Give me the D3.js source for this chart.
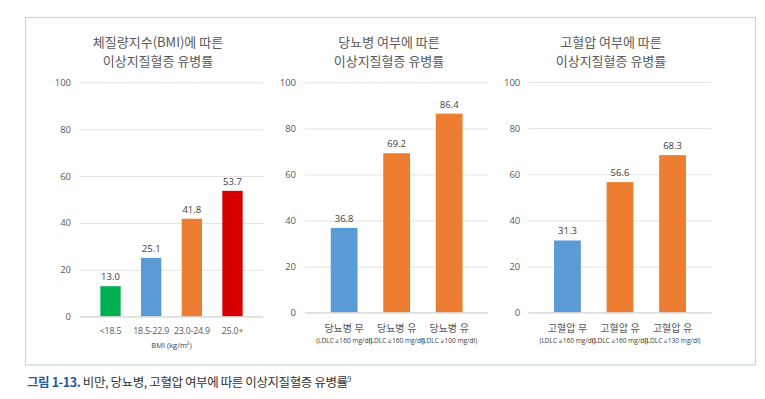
<!DOCTYPE html>
<html><head><meta charset="utf-8">
<script src="https://cdn.jsdelivr.net/npm/d3@7"></script>
<style>
html,body{margin:0;padding:0;background:#fff;}
svg{display:block;font-family:"Open Sans","Noto Sans CJK KR",sans-serif;}
</style></head>
<body><svg id="c" width="765" height="399"></svg>
<script>
// ---- data ----
const yTicks = [0, 20, 40, 60, 80, 100];

const bmiTitle = ["체질량지수(BMI)에 따른", "이상지질혈증 유병률"];
const bmiCats = ["<18.5", "18.5-22.9", "23.0-24.9", "25.0+"];
const bmiValues = [13.0, 25.1, 41.8, 53.7];
const bmiColors = ["#00B050", "#5B9BD5", "#ED7D31", "#D50000"];
const bmiAxisTitle = "BMI (kg/m²)";

const dmTitle = ["당뇨병 여부에 따른", "이상지질혈증 유병률"];
const dmCats = ["당뇨병 무", "당뇨병 유", "당뇨병 유"];
const dmSub = ["(LDLC ≥160 mg/dl)", "(LDLC ≥160 mg/dl)", "(LDLC ≥100 mg/dl)"];
const dmValues = [36.8, 69.2, 86.4];
const dmColors = ["#5B9BD5", "#ED7D31", "#ED7D31"];

const htnTitle = ["고혈압 여부에 따른", "이상지질혈증 유병률"];
const htnCats = ["고혈압 무", "고혈압 유", "고혈압 유"];
const htnSub = ["(LDLC ≥160 mg/dl)", "(LDLC ≥160 mg/dl)", "(LDLC ≥130 mg/dl)"];
const htnValues = [31.3, 56.6, 68.3];
const htnColors = ["#5B9BD5", "#ED7D31", "#ED7D31"];

const caption = {bold: "그림 1-13.", rest: " 비만, 당뇨병, 고혈압 여부에 따른 이상지질혈증 유병률", sup: "9"};

// ---- drawing ----
const svg = d3.select("#c");
svg.append("rect").attr("x", 25.5).attr("y", 17.5).attr("width", 730).attr("height", 347.5)
  .attr("fill", "none").attr("stroke", "#C5D6DC").attr("stroke-width", 1.2);

function panel(cfg) {
  const g = svg.append("g");
  const x = d3.scaleBand().domain(d3.range(cfg.values.length)).range([cfg.x0, cfg.x1]).padding(cfg.pad);
  const y = d3.scaleLinear().domain([0, 100]).range([cfg.y0, cfg.y1]);
  // title
  cfg.title.forEach((t, i) => {
    g.append("text").attr("x", cfg.tx).attr("y", 47 + i * 18.5).attr("text-anchor", "middle")
      .attr("font-size", 13).attr("fill", "#595959").attr("font-family", "Noto Sans CJK KR").text(t);
  });
  // grid
  const yAxis = d3.axisLeft(y).tickValues(yTicks).tickSize(-(cfg.x1 - cfg.x0)).tickPadding(cfg.tp);
  const ag = g.append("g").attr("transform", `translate(${cfg.x0},0)`).call(yAxis);
  ag.select(".domain").remove();
  ag.selectAll(".tick line").attr("stroke", "#E3E3E3").attr("stroke-width", 1);
  ag.selectAll(".tick text").attr("fill", "#595959").attr("font-size", 9.5)
    .attr("font-family", "Open Sans");
  // bars
  g.selectAll("rect.bar").data(cfg.values).enter().append("rect")
    .attr("x", (d, i) => x(i)).attr("width", x.bandwidth())
    .attr("y", d => y(d)).attr("height", d => y(0) - y(d))
    .attr("fill", (d, i) => cfg.colors[i]);
  // baseline
  g.append("line").attr("x1", cfg.x0).attr("x2", cfg.x1).attr("y1", y(0)).attr("y2", y(0))
    .attr("stroke", "#D9D9D9").attr("stroke-width", 1);
  // value labels
  g.selectAll("text.val").data(cfg.values).enter().append("text")
    .attr("x", (d, i) => x(i) + x.bandwidth() / 2).attr("y", d => y(d) - 6)
    .attr("text-anchor", "middle").attr("font-size", 9.5).attr("fill", "#404040")
    .attr("font-family", "Open Sans").text(d => d.toFixed(1));
  // category labels
  g.selectAll("text.cat").data(cfg.cats).enter().append("text")
    .attr("x", (d, i) => x(i) + x.bandwidth() / 2).attr("y", cfg.catY)
    .attr("text-anchor", "middle").attr("font-size", cfg.catSize).attr("fill", "#595959")
    .attr("letter-spacing", cfg.catLs || 0)
    .text(d => d);
  if (cfg.sub) {
    g.selectAll("text.sub").data(cfg.sub).enter().append("text")
      .attr("x", (d, i) => x(i) + x.bandwidth() / 2).attr("y", 342.5)
      .attr("text-anchor", "middle").attr("font-size", 6.8).attr("fill", "#404040")
      .attr("font-family", "Open Sans")
      .attr("textLength", 56).attr("lengthAdjust", "spacingAndGlyphs")
      .text(d => d);
  }
  if (cfg.axisTitle) {
    g.append("text").attr("x", (cfg.x0 + cfg.x1) / 2).attr("y", 348)
      .attr("text-anchor", "middle").attr("font-size", 7.5).attr("fill", "#404040")
      .attr("font-family", "Open Sans").text(cfg.axisTitle);
  }
}

panel({title: bmiTitle, tx: 158, values: bmiValues, cats: bmiCats, colors: bmiColors,
  x0: 80, x1: 263, y0: 316.7, y1: 82.3, pad: 0.5, tp: 9, catY: 333.5, catSize: 8.8, catLs: -0.2, axisTitle: bmiAxisTitle});
panel({title: dmTitle, tx: 389, values: dmValues, cats: dmCats, sub: dmSub, colors: dmColors,
  x0: 305, x1: 488.3, y0: 312.7, y1: 82.3, pad: 0.49, tp: 9, catY: 331.5, catSize: 10});
panel({title: htnTitle, tx: 611, values: htnValues, cats: htnCats, sub: htnSub, colors: htnColors,
  x0: 528.3, x1: 711.7, y0: 312.7, y1: 82, pad: 0.49, tp: 8, catY: 331.5, catSize: 10});

// caption
const cap = svg.append("text").attr("x", 27).attr("y", 387).attr("font-size", 12.5)
  .attr("font-family", "Noto Sans CJK KR").attr("letter-spacing", -0.4);
cap.append("tspan").attr("font-weight", "bold").attr("fill", "#1F5B98").text(caption.bold);
cap.append("tspan").attr("fill", "#333333").text(caption.rest);
cap.append("tspan").attr("fill", "#333333").attr("font-size", 7).attr("dy", -5).text(caption.sup);
</script></body></html>
